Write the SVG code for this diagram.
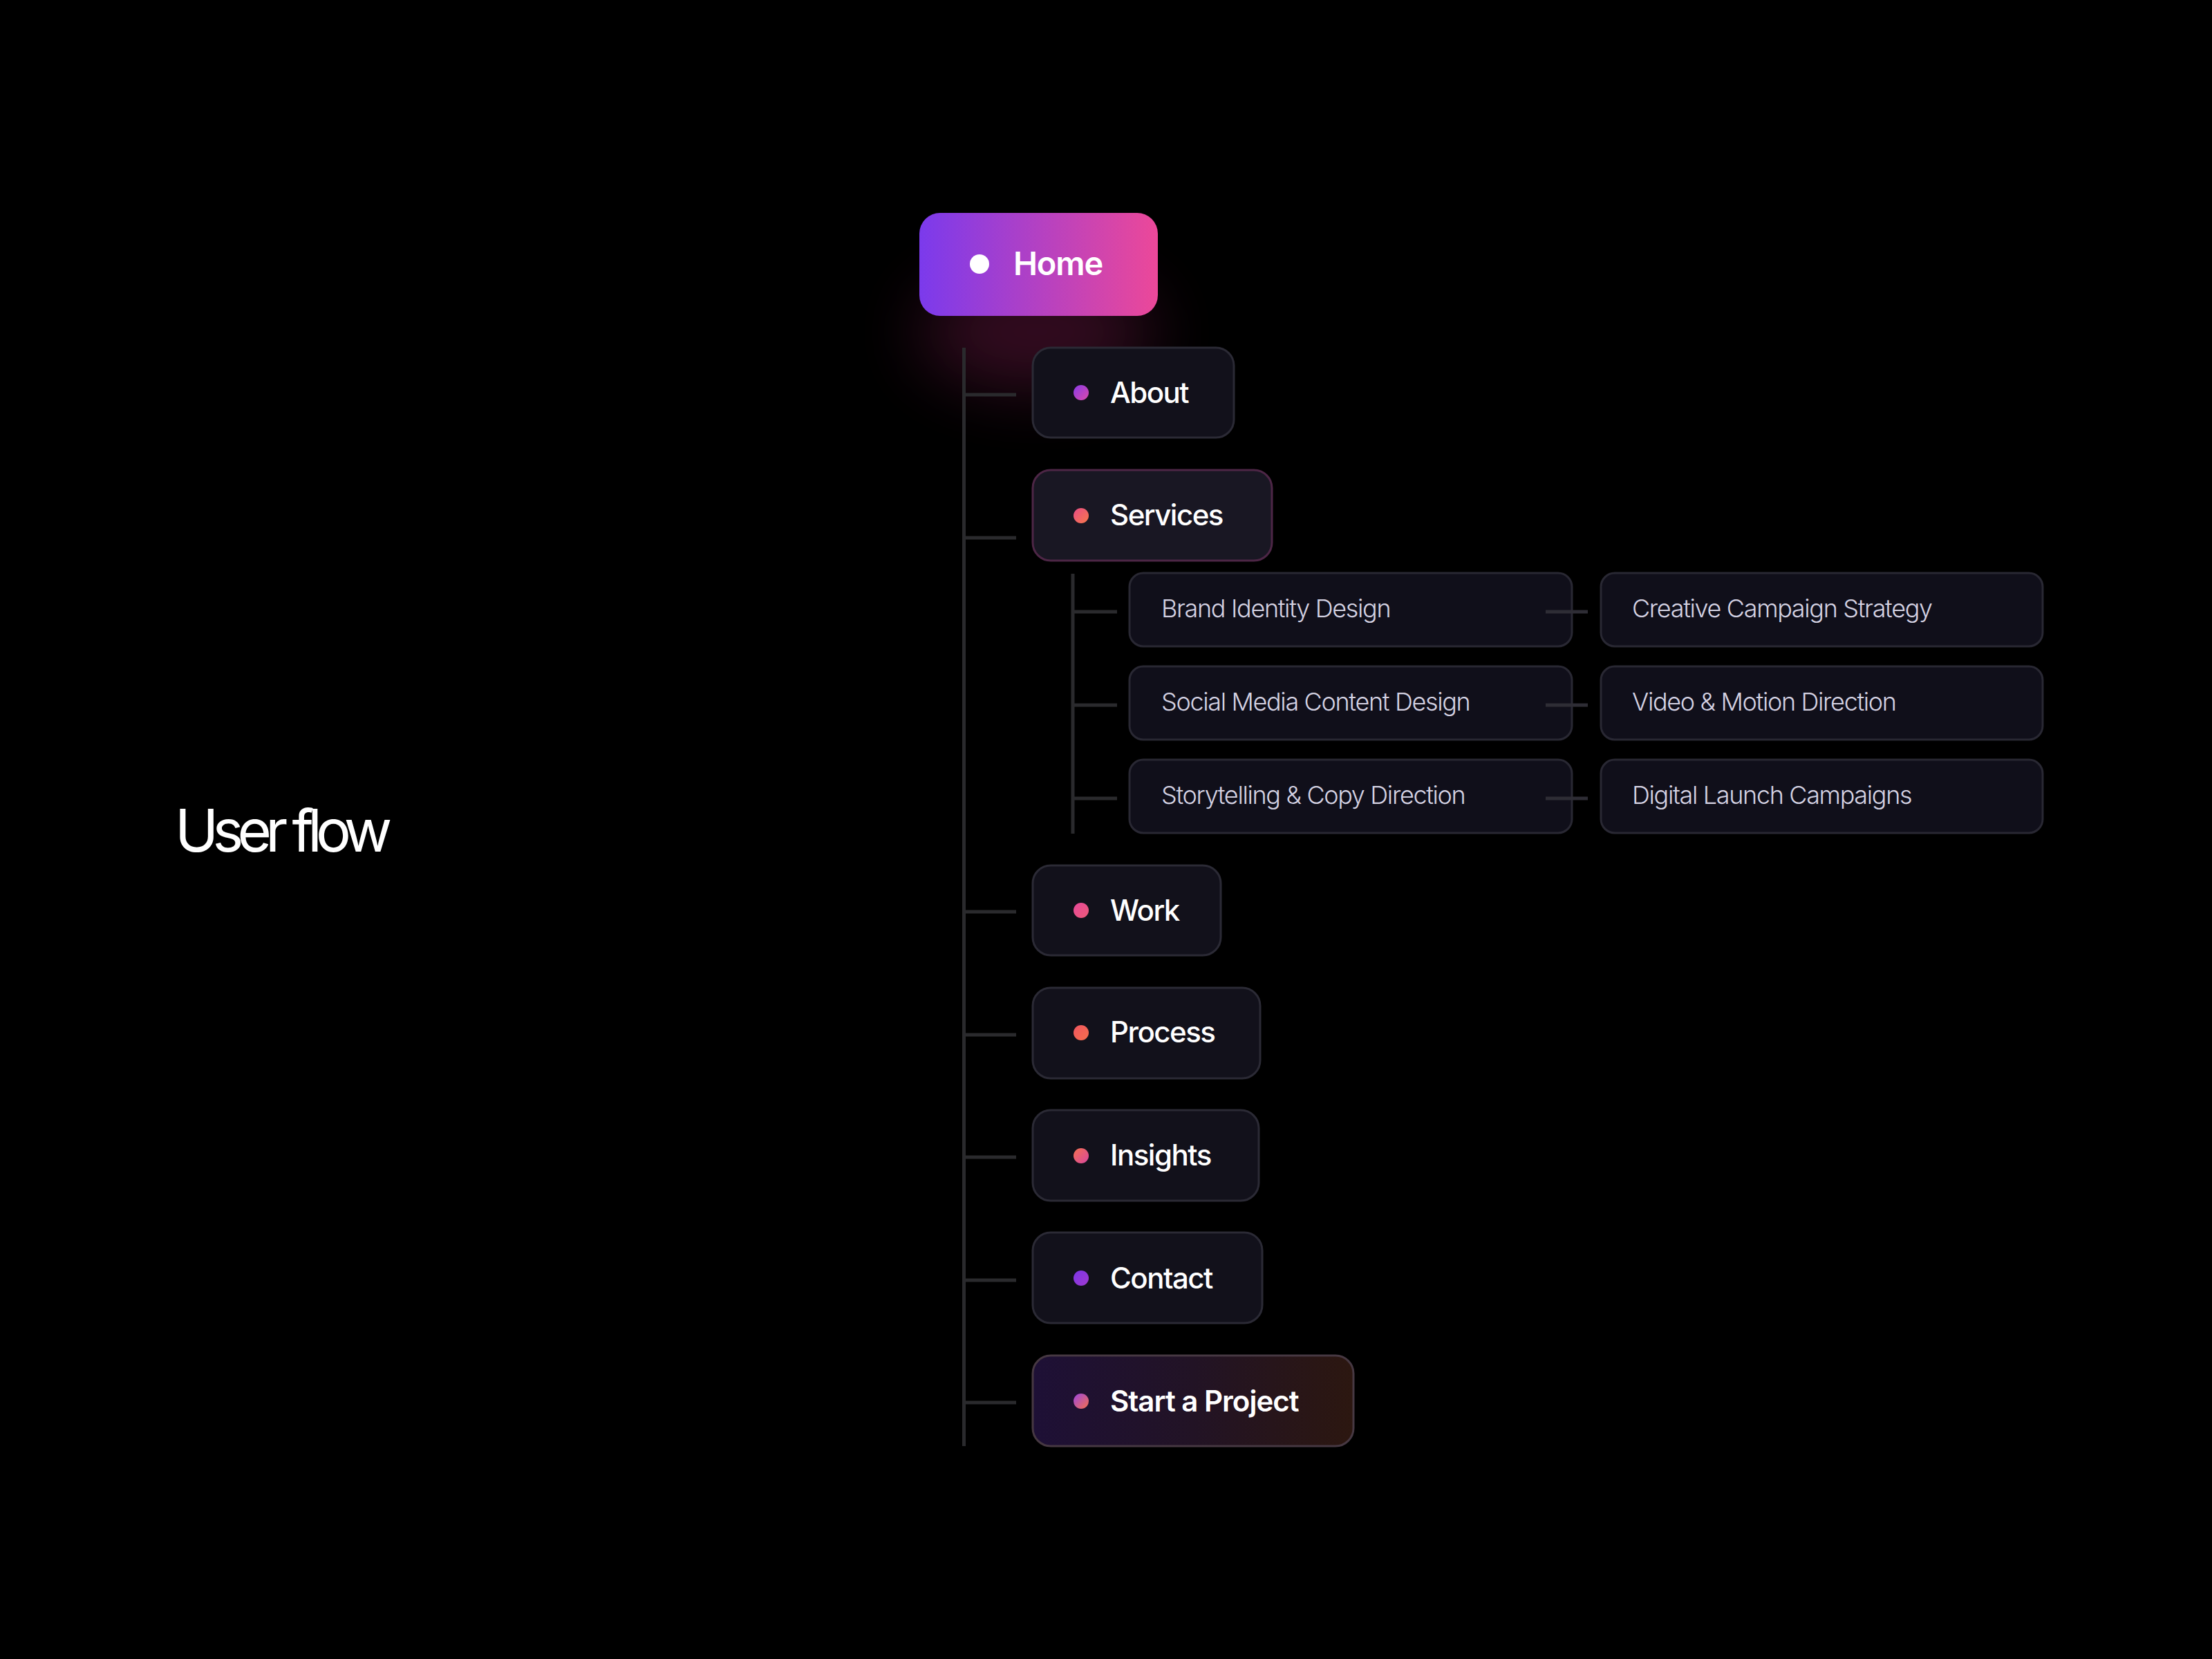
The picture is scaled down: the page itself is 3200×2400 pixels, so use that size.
<svg xmlns="http://www.w3.org/2000/svg" width="3200" height="2400" viewBox="0 0 3200 2400">
  <defs>
    <linearGradient id="gHome" x1="0" y1="0" x2="1" y2="0">
      <stop offset="0" stop-color="#7b3aec"/>
      <stop offset="1" stop-color="#ec4899"/>
    </linearGradient>
    <linearGradient id="gStart" x1="0" y1="0" x2="1" y2="0">
      <stop offset="0" stop-color="#1e1036"/>
      <stop offset="0.5" stop-color="#221325"/>
      <stop offset="1" stop-color="#2c1710"/>
    </linearGradient>
    <linearGradient id="dAbout" x1="0" y1="0" x2="1" y2="1">
      <stop offset="0" stop-color="#8a3ae8"/>
      <stop offset="1" stop-color="#d94aa8"/>
    </linearGradient>
    <linearGradient id="dServices" x1="0" y1="0" x2="1" y2="1">
      <stop offset="0" stop-color="#e84c86"/>
      <stop offset="1" stop-color="#f7784a"/>
    </linearGradient>
    <linearGradient id="dWork" x1="0" y1="0" x2="1" y2="1">
      <stop offset="0" stop-color="#e6489a"/>
      <stop offset="1" stop-color="#ee5a78"/>
    </linearGradient>
    <linearGradient id="dProcess" x1="0" y1="0" x2="1" y2="1">
      <stop offset="0" stop-color="#ef5560"/>
      <stop offset="1" stop-color="#f66f4c"/>
    </linearGradient>
    <linearGradient id="dInsights" x1="0" y1="0" x2="1" y2="1">
      <stop offset="0" stop-color="#f47050"/>
      <stop offset="1" stop-color="#d9479e"/>
    </linearGradient>
    <linearGradient id="dContact" x1="0" y1="0" x2="1" y2="1">
      <stop offset="0" stop-color="#7c35e6"/>
      <stop offset="1" stop-color="#a03ad0"/>
    </linearGradient>
    <linearGradient id="dStart" x1="0" y1="0" x2="1" y2="1">
      <stop offset="0" stop-color="#9b45e0"/>
      <stop offset="1" stop-color="#f5704c"/>
    </linearGradient>
    <filter id="glow" x="-100%" y="-100%" width="300%" height="300%">
      <feGaussianBlur stdDeviation="50"/>
    </filter>
    <style>
      .node { fill: #12111b; stroke: #2b2a35; stroke-width: 3; }
      .sub { fill: #100f1a; stroke: #292833; stroke-width: 3; }
      .lbl { font-family: Inter, "Liberation Sans", sans-serif; font-size: 42px; font-weight: 500; fill: #ffffff; letter-spacing: -1.5px; }
      .lbl.strong { font-weight: 600; letter-spacing: -1px; }
      .slbl { font-family: Inter, "Liberation Sans", sans-serif; font-size: 36px; font-weight: 300; fill: #d4d2e2; letter-spacing: -1.35px; }
      .trunk { stroke: #2a2a2d; stroke-width: 5; fill: none; }
      .link { stroke: #2e2d35; stroke-width: 5; fill: none; }
    </style>
  </defs>
  <rect x="0" y="0" width="3200" height="2400" fill="#000000"/>

  <text x="253" y="1232" font-family="Inter, 'Liberation Sans', sans-serif" font-size="85" font-weight="400" fill="#ffffff" letter-spacing="-8.8">User flow</text>

  <!-- Home glow -->
  <ellipse cx="1500" cy="480" rx="170" ry="80" fill="#b02a70" opacity="0.3" filter="url(#glow)"/>

  <g id="connectors">
    <line class="trunk" x1="1394.5" y1="503" x2="1394.5" y2="2092"/>
    <line class="trunk" x1="1394.5" y1="571" x2="1470" y2="571"/>
    <line class="trunk" x1="1394.5" y1="778" x2="1470" y2="778"/>
    <line class="trunk" x1="1394.5" y1="1319" x2="1470" y2="1319"/>
    <line class="trunk" x1="1394.5" y1="1497" x2="1470" y2="1497"/>
    <line class="trunk" x1="1394.5" y1="1674" x2="1470" y2="1674"/>
    <line class="trunk" x1="1394.5" y1="1852" x2="1470" y2="1852"/>
    <line class="trunk" x1="1394.5" y1="2029" x2="1470" y2="2029"/>
    <line class="trunk" x1="1552" y1="830" x2="1552" y2="1206"/>
    <line class="trunk" x1="1552" y1="885" x2="1616" y2="885"/>
    <line class="trunk" x1="1552" y1="1020" x2="1616" y2="1020"/>
    <line class="trunk" x1="1552" y1="1155" x2="1616" y2="1155"/>
  </g>

  <g id="home">
    <rect x="1330" y="308" width="345" height="149" rx="30" fill="url(#gHome)"/>
    <circle cx="1417" cy="382" r="14" fill="#ffffff"/>
    <text x="1466" y="398" font-family="Inter, 'Liberation Sans', sans-serif" font-size="47" font-weight="600" fill="#ffffff" letter-spacing="-1.2">Home</text>
  </g>

  <g id="about">
    <rect class="node" x="1494" y="503" width="291" height="130" rx="26"/>
    <circle cx="1564" cy="568" r="11" fill="url(#dAbout)"/>
    <text class="lbl" x="1606" y="583">About</text>
  </g>

  <g id="services">
    <rect x="1494" y="680" width="346" height="131" rx="26" fill="#191723" stroke="#4d2646" stroke-width="3"/>
    <circle cx="1564" cy="746" r="11" fill="url(#dServices)"/>
    <text class="lbl" x="1606" y="760">Services</text>
  </g>

  <g id="brand-identity">
    <rect class="sub" x="1634" y="829" width="640" height="106" rx="20"/>
    <text class="slbl" x="1680" y="893">Brand Identity Design</text>
  </g>
  <g id="social-media">
    <rect class="sub" x="1634" y="964" width="640" height="106" rx="20"/>
    <text class="slbl" x="1680" y="1028">Social Media Content Design</text>
  </g>
  <g id="storytelling">
    <rect class="sub" x="1634" y="1099" width="640" height="106" rx="20"/>
    <text class="slbl" x="1680" y="1163">Storytelling &amp; Copy Direction</text>
  </g>
  <g id="creative-campaign">
    <rect class="sub" x="2316" y="829" width="639" height="106" rx="20"/>
    <text class="slbl" x="2361" y="893">Creative Campaign Strategy</text>
  </g>
  <g id="video-motion">
    <rect class="sub" x="2316" y="964" width="639" height="106" rx="20"/>
    <text class="slbl" x="2361" y="1028">Video &amp; Motion Direction</text>
  </g>
  <g id="digital-launch">
    <rect class="sub" x="2316" y="1099" width="639" height="106" rx="20"/>
    <text class="slbl" x="2361" y="1163">Digital Launch Campaigns</text>
  </g>

  <g id="side-links">
    <line class="link" x1="2236" y1="885" x2="2297" y2="885"/>
    <line class="link" x1="2236" y1="1020" x2="2297" y2="1020"/>
    <line class="link" x1="2236" y1="1155" x2="2297" y2="1155"/>
  </g>

  <g id="work">
    <rect class="node" x="1494" y="1252" width="272" height="130" rx="26"/>
    <circle cx="1564" cy="1317" r="11" fill="url(#dWork)"/>
    <text class="lbl" x="1606" y="1332">Work</text>
  </g>

  <g id="process">
    <rect class="node" x="1494" y="1429" width="329" height="131" rx="26"/>
    <circle cx="1564" cy="1494" r="11" fill="url(#dProcess)"/>
    <text class="lbl" x="1606" y="1508">Process</text>
  </g>

  <g id="insights">
    <rect class="node" x="1494" y="1606" width="327" height="131" rx="26"/>
    <circle cx="1564" cy="1672" r="11" fill="url(#dInsights)"/>
    <text class="lbl" x="1606" y="1686">Insights</text>
  </g>

  <g id="contact">
    <rect class="node" x="1494" y="1783" width="332" height="131" rx="26"/>
    <circle cx="1564" cy="1849" r="11" fill="url(#dContact)"/>
    <text class="lbl" x="1606" y="1864">Contact</text>
  </g>

  <g id="start-project">
    <rect x="1494" y="1961" width="464" height="131" rx="26" fill="url(#gStart)" stroke="#463842" stroke-width="3"/>
    <circle cx="1564" cy="2027" r="11" fill="url(#dStart)"/>
    <text class="lbl strong" x="1606" y="2042">Start a Project</text>
  </g>
</svg>
